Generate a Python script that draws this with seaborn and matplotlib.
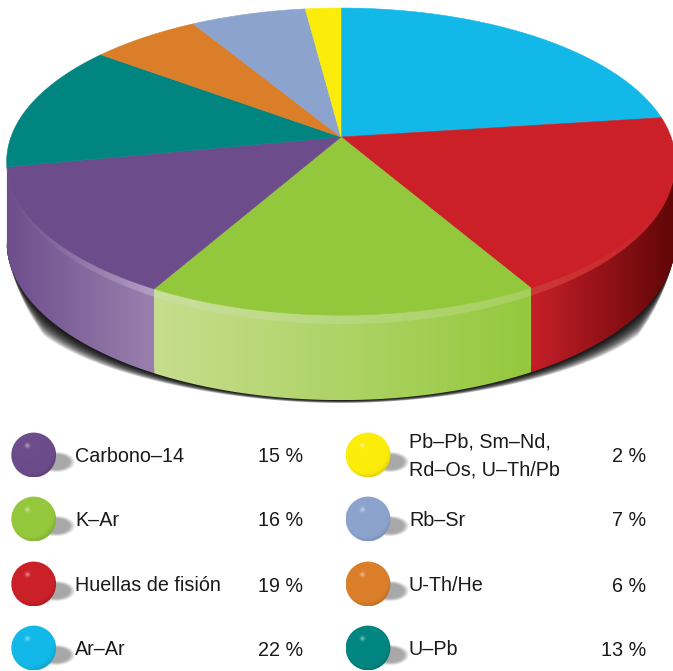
import matplotlib.pyplot as plt
import numpy as np
import seaborn as sns
from matplotlib.patches import Circle, Polygon

# sectors, clockwise from the top of the pie
sector_names = ["Ar–Ar", "Huellas de fisión", "K–Ar", "Carbono–14", "U–Pb", "U-Th/He", "Rb–Sr", "Pb–Pb"]
# the shares as they are drawn in the picture (they differ a little from the printed %)
drawn_shares = [22.9, 18.85, 16.35, 13.8, 13.4, 6.2, 6.5, 2.0]
sector_colors = ["#12b9e8", "#cb2027", "#94c83c", "#6c4c8a", "#008580", "#da7e2a", "#8ca3cd", "#fbec0a"]

# legend columns
left_labels = ["Carbono–14", "K–Ar", "Huellas de fisión", "Ar–Ar"]
left_values = ["15 %", "16 %", "19 %", "22 %"]
left_colors = ["#6c4c8a", "#94c83c", "#cb2027", "#12b9e8"]
right_labels = ["Pb–Pb, Sm–Nd,\nRd–Os, U–Th/Pb", "Rb–Sr", "U-Th/He", "U–Pb"]
right_values = ["2 %", "7 %", "6 %", "13 %"]
right_colors = ["#fbec0a", "#8ca3cd", "#da7e2a", "#008580"]
legend_rows = [455, 519, 584, 648]

# perspective of the pie, in pixels of the figure
cx, cy = 341, 137
rx, ry = 330, 149.6
persp = 0.16

sns.set_theme(style="white")
plt.rcParams["font.family"] = ["Liberation Sans", "DejaVu Sans"]

fig = plt.figure(figsize=(6.73, 6.71), dpi=100)
ax = fig.add_axes([0, 0, 1, 1])


def rim_point(share):
    # share = cumulated percent, clockwise from the top
    a = np.asarray(share) / 100 * 2 * np.pi
    u, v = np.sin(a), np.cos(a)
    return cx + rx * u / (1 + persp * v), cy - ry * v / (1 + persp * v), v


def depth(v):
    return 80 - 5 * np.minimum(v, 0)


def gradient(x0, x1, c0, c1, poly_xy, z):
    # horizontal colour ramp clipped to a polygon
    cmap = sns.blend_palette([c0, c1], as_cmap=True)
    y0, y1 = poly_xy[:, 1].min(), poly_xy[:, 1].max()
    im = ax.imshow(np.linspace(0, 1, 256)[None, :], cmap=cmap, extent=(x0, x1, y1, y0),
                   aspect="auto", zorder=z, interpolation="bilinear")
    im.set_clip_path(Polygon(poly_xy, closed=True, transform=ax.transData))


cum = np.concatenate([[0], np.cumsum(drawn_shares)])

# side of the pie seen from 27.6 % to the purple/teal edge
wall_from, wall_to = 27.6, 71.9

# ground shadow under the side wall
s = np.linspace(wall_from, wall_to, 300)
x, y, v = rim_point(s)
yb = y + depth(v)
t = np.abs(x - cx) / rx
spread = (3 + 24 * t ** 3) * np.clip((1.0 - t) * 10, 0, 1)
for k in np.linspace(1, 0.05, 20):
    ax.fill(np.r_[x, x[::-1]], np.r_[yb + spread * k, yb[::-1] - 5],
            color="#000000", alpha=0.1, lw=0, zorder=1)

# side wall: red, green, purple, with their rims
walls = [
    (1, 532, 676, "#c9202a", "#5c0505", "#cc3a38", "#c92028"),
    (2, 151, 532, "#c8de90", "#94c83c", "#cbe09f", "#a5cf5c"),
    (3, 5, 151, "#6d4c8b", "#9a82ae", "#6d4c8b", "#b4a0c4"),
]
for i, x0, x1, c0, c1, r0, r1 in walls:
    s = np.linspace(max(cum[i], wall_from), min(cum[i + 1], wall_to), 200)
    x, y, v = rim_point(s)
    yb = y + depth(v)
    xl, xr = min(x0, x.min()) - 3, max(x1, x.max()) + 3
    gradient(xl, xr, c0, c1, np.r_[np.c_[x, y], np.c_[x, yb][::-1]], 2)
    band = 9 * np.clip(-v, 0, 1)
    gradient(xl, xr, r0, r1, np.r_[np.c_[x, y - 1], np.c_[x, y + band][::-1]], 3)

# top face
for start, stop, color in zip(cum[:-1], cum[1:], sector_colors):
    x, y, v = rim_point(np.linspace(start, stop, 120))
    ax.fill(np.r_[cx, x], np.r_[cy, y], color=color, lw=0.4, ec=color, zorder=4)


def ball(bx, by, color):
    r = 22.4
    # soft shadow to the right
    gx, gy = np.meshgrid(np.linspace(bx, bx + 46, 120), np.linspace(by - 14, by + 26, 100))
    d = ((gx - bx - 22) / 18.5) ** 2 + ((gy - by - 7) / 10) ** 2
    rgba = np.zeros(gx.shape + (4,))
    rgba[..., :3] = 0.6
    rgba[..., 3] = np.clip((1.1 - d) * 1.8, 0, 1) * 0.85
    ax.imshow(rgba, extent=(bx, bx + 46, by + 26, by - 14), aspect="auto", zorder=5)

    # the ball, a bit darker near the lower right edge, with a small highlight
    gx, gy = np.meshgrid(np.linspace(-r, r, 180), np.linspace(-r, r, 180))
    base = np.array(color)
    dark = np.clip(np.hypot(gx + 3, gy + 4) / r - 1.0, 0, 1) * 0.5
    shine = 0.45 * np.exp(-((gx + 6) ** 2 + (gy + 9) ** 2) / 5)
    rgb = base[None, None, :] * (1 - dark[..., None])
    rgb = rgb + (1 - rgb) * shine[..., None]
    im = ax.imshow(rgb, extent=(bx - r, bx + r, by + r, by - r), aspect="auto", zorder=6)
    im.set_clip_path(Circle((bx, by), r, transform=ax.transData))


rows = [(33.7, 75, 303, left_labels, left_values, left_colors),
        (368, 409, 646, right_labels, right_values, right_colors)]
for bx, tx, vx, labels, values, colors in rows:
    for by, label, value, color in zip(legend_rows, labels, values, colors):
        ball(bx, by, sns.color_palette([color])[0])
        lines = label.split("\n")
        for n, line in enumerate(lines):
            base_y = by + 7 + (n - (len(lines) - 1) / 2) * 28
            ax.text(tx, base_y, line, fontsize=14.2, color="#1a1a1a", ha="left", va="baseline", zorder=7)
        ax.text(vx, by + 7.5, value, fontsize=14.2, color="#1a1a1a", ha="right", va="baseline", zorder=7)

ax.set_xlim(0, 673)
ax.set_ylim(671, 0)
ax.axis("off")

fig.savefig("out.png", dpi=100)
